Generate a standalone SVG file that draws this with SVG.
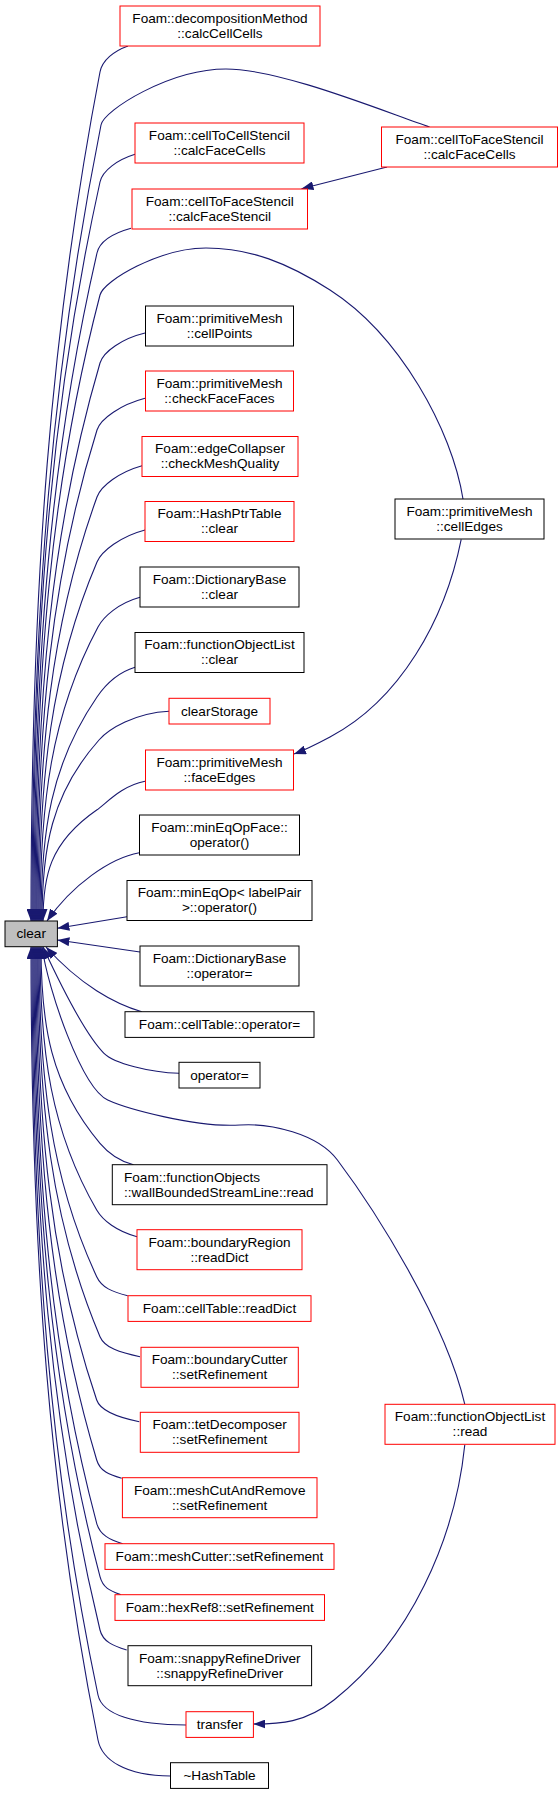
<svg xmlns="http://www.w3.org/2000/svg" width="560" height="1794" viewBox="0 0 560 1794">
<style>
.edge{fill:none;stroke:#191970;stroke-width:1.1;marker-end:url(#ah)}
.nb rect{fill:#fff;stroke:#000;stroke-width:1}
.nr rect{fill:#fff;stroke:#f00;stroke-width:1}
.root rect{fill:#bfbfbf;stroke:#000;stroke-width:1}
text{font-family:"Liberation Sans",Arial,Helvetica,sans-serif;font-size:13.6px;fill:#000;text-anchor:middle}
text.l{text-anchor:start}
</style>
<defs>
<marker id="ah" markerUnits="userSpaceOnUse" markerWidth="12" markerHeight="9" viewBox="0 0 12 9" refX="12" refY="4.5" orient="auto">
<path d="M0,0 L12,4.5 L0,9 Z" fill="#191970"/>
</marker>
</defs>
<rect x="0" y="0" width="560" height="1794" fill="#fff"/>
<g id="edges">
<path class="edge" d="M128,46 C114,51 102.3,60.2 100,72 C51,327 31,581 31,921"/>
<path class="edge" d="M429.6,127 C380,110 280,69 226,69 C170,69 104,110 101,125 C53,365 32,603 32,921"/>
<path class="edge" d="M135,154.3 C117.5,159.8 102.6,170.3 100,182 C51,404 33,625 33,921"/>
<path class="edge" d="M131,228.3 C114,233 99.7,241.3 97,253 C51,453 34,654 34,921"/>
<path class="edge" d="M463,499 C452,430 400,335 330,290 C288,263 250,248 206,248 C160,248 103.8,280.5 100,295 C51,483 35,671 35,921"/>
<path class="edge" d="M145,333 C122.5,338.4 103.4,351.5 100,363 C51,530 36,698 36,921"/>
<path class="edge" d="M145,398.3 C121,404.6 100.6,418.5 97,430 C51,577 37,725 37,921"/>
<path class="edge" d="M142,465.7 C119.5,472 101,485.7 97,497 C51,624 38,751 38,921"/>
<path class="edge" d="M145,530 C120.6,536.4 101.7,551 97,562 C51,670 39,777 39,921"/>
<path class="edge" d="M140,597.3 C118.6,603.2 103.7,616.4 98,627 C51,715 40,803 40,921"/>
<path class="edge" d="M135,667.3 C115.6,673.2 103.8,687.1 97,697 C51,764 41,831 41,921"/>
<path class="edge" d="M169,711.3 C135,713 109,728.8 99,740 C51,794 42,849 42,921"/>
<path class="edge" d="M145,781.3 C121,786 106.6,803.2 96.7,810 C49,843 43,877 43,921"/>
<path class="edge" d="M139.3,852.7 C110,858 72,885 47,921"/>
<path class="edge" d="M127,916.7 L57.4,928.3"/>
<path class="edge" d="M140,952 L57.4,940"/>
<path class="edge" d="M141.8,1011.7 C115,1004 80,985 46,947"/>
<path class="edge" d="M179,1073.3 C150,1072.5 114,1063.3 104,1053.3 C84,1033.3 56,975 43,947"/>
<path class="edge" d="M464.8,1404.3 C445,1320 375,1210 337.4,1160 C317.4,1133.4 270,1123 240,1125 C195,1128 125,1108 107.7,1100 C81.75,1088 48,990 42,947"/>
<path class="edge" d="M133.5,1164.7 C116.75,1160.4 107.7,1152.5 100,1143.3 C50.5,1084.5 41,1025 41,947"/>
<path class="edge" d="M137,1236.7 C116.9,1231.4 102.7,1220.4 96.7,1210 C50.9,1131 40,1052 40,947"/>
<path class="edge" d="M127.7,1295.7 C112.2,1291.9 101.8,1287.6 96.7,1276.7 C50.7,1177.8 39,1079 39,947"/>
<path class="edge" d="M140,1356.7 C120,1352.7 104.7,1347.8 100,1336.7 C50.6,1219.7 38,1103 38,947"/>
<path class="edge" d="M139.3,1421.7 C118,1417.4 100.6,1411.4 96.7,1400 C50.6,1264 37,1128 37,947"/>
<path class="edge" d="M121.7,1478.3 C109.2,1474.6 100.1,1471.5 96.7,1460 C50.6,1306 36,1152 36,947"/>
<path class="edge" d="M122.7,1543.7 C109.7,1539.9 99.8,1534.9 96.7,1523.3 C50.6,1350.3 35,1177 35,947"/>
<path class="edge" d="M120.7,1594.7 C110.4,1590.8 103,1588.3 100,1576.7 C50.6,1387.7 34,1199 34,947"/>
<path class="edge" d="M126.7,1650 C113.4,1646 102.8,1641.7 100,1630 C50.5,1425 33,1220 33,947"/>
<path class="edge" d="M186,1725 C135,1725 102.1,1714.6 98,1695 C50.8,1471 32,1246 32,947"/>
<path class="edge" d="M170.5,1776 C125,1776 101.9,1759.6 98,1740 C50.5,1502 31,1264 31,947"/>
<path class="edge" d="M387,167 L301.5,188.7"/>
<path class="edge" d="M461.2,539.3 C445,620 400,700 330,737 C315,745 305,750 294,754"/>
<path class="edge" d="M464.8,1444.7 C455,1540 410,1640 334,1700 C305,1723 280,1724 253.4,1724"/>
</g>
<g id="node-decompositionMethod-calcCellCells" class="nr"><rect x="120" y="6" width="200" height="40"/><text x="220" y="22.8">Foam::decompositionMethod</text><text x="220" y="37.8">::calcCellCells</text></g>
<g id="node-cellToCellStencil-calcFaceCells" class="nr"><rect x="135" y="123" width="169" height="40"/><text x="219.5" y="139.8">Foam::cellToCellStencil</text><text x="219.5" y="154.8">::calcFaceCells</text></g>
<g id="node-cellToFaceStencil-calcFaceCells" class="nr"><rect x="381.5" y="127" width="176" height="40"/><text x="469.5" y="143.8">Foam::cellToFaceStencil</text><text x="469.5" y="158.8">::calcFaceCells</text></g>
<g id="node-cellToFaceStencil-calcFaceStencil" class="nr"><rect x="132" y="189" width="175.5" height="40"/><text x="219.75" y="205.8">Foam::cellToFaceStencil</text><text x="219.75" y="220.8">::calcFaceStencil</text></g>
<g id="node-primitiveMesh-cellPoints" class="nb"><rect x="145.5" y="306" width="148" height="40"/><text x="219.5" y="322.8">Foam::primitiveMesh</text><text x="219.5" y="337.8">::cellPoints</text></g>
<g id="node-primitiveMesh-checkFaceFaces" class="nr"><rect x="145.5" y="371" width="148" height="40"/><text x="219.5" y="387.8">Foam::primitiveMesh</text><text x="219.5" y="402.8">::checkFaceFaces</text></g>
<g id="node-edgeCollapser-checkMeshQuality" class="nr"><rect x="142" y="436.5" width="156" height="40"/><text x="220" y="453.3">Foam::edgeCollapser</text><text x="220" y="468.3">::checkMeshQuality</text></g>
<g id="node-HashPtrTable-clear" class="nr"><rect x="145" y="501.5" width="149" height="40"/><text x="219.5" y="518.3">Foam::HashPtrTable</text><text x="219.5" y="533.3">::clear</text></g>
<g id="node-primitiveMesh-cellEdges" class="nb"><rect x="395" y="499" width="149" height="40"/><text x="469.5" y="515.8">Foam::primitiveMesh</text><text x="469.5" y="530.8">::cellEdges</text></g>
<g id="node-DictionaryBase-clear" class="nb"><rect x="140" y="567" width="159" height="40"/><text x="219.5" y="583.8">Foam::DictionaryBase</text><text x="219.5" y="598.8">::clear</text></g>
<g id="node-functionObjectList-clear" class="nb"><rect x="135" y="632.5" width="169" height="40"/><text x="219.5" y="649.3">Foam::functionObjectList</text><text x="219.5" y="664.3">::clear</text></g>
<g id="node-clearStorage" class="nr"><rect x="169" y="698.3" width="101" height="25.7"/><text x="219.5" y="715.6">clearStorage</text></g>
<g id="node-primitiveMesh-faceEdges" class="nr"><rect x="145.5" y="750" width="148" height="40"/><text x="219.5" y="766.8">Foam::primitiveMesh</text><text x="219.5" y="781.8">::faceEdges</text></g>
<g id="node-minEqOpFace-operator" class="nb"><rect x="139.5" y="815" width="160" height="40"/><text x="219.5" y="831.8">Foam::minEqOpFace::</text><text x="219.5" y="846.8">operator()</text></g>
<g id="node-minEqOp-labelPair-operator" class="nb"><rect x="127" y="880.5" width="185" height="40"/><text x="219.5" y="897.3">Foam::minEqOp&lt; labelPair</text><text x="219.5" y="912.3">&gt;::operator()</text></g>
<g id="node-clear" class="root"><rect x="5" y="921" width="52.4" height="25.7"/><text x="31.2" y="938.3">clear</text></g>
<g id="node-DictionaryBase-operator-assign" class="nb"><rect x="140" y="946" width="159" height="40"/><text x="219.5" y="962.8">Foam::DictionaryBase</text><text x="219.5" y="977.8">::operator=</text></g>
<g id="node-cellTable-operator-assign" class="nb"><rect x="125" y="1011.7" width="189" height="25.7"/><text x="219.5" y="1029">Foam::cellTable::operator=</text></g>
<g id="node-operator-assign" class="nb"><rect x="179" y="1062.3" width="81" height="25.7"/><text x="219.5" y="1079.6">operator=</text></g>
<g id="node-wallBoundedStreamLine-read" class="nb"><rect x="112.3" y="1164.7" width="214.7" height="40"/><text class="l" x="124" y="1181.5">Foam::functionObjects</text><text class="l" x="124" y="1196.5">::wallBoundedStreamLine::read</text></g>
<g id="node-boundaryRegion-readDict" class="nr"><rect x="137" y="1229.7" width="165" height="40"/><text x="219.5" y="1246.5">Foam::boundaryRegion</text><text x="219.5" y="1261.5">::readDict</text></g>
<g id="node-cellTable-readDict" class="nr"><rect x="128" y="1295.7" width="183" height="25.7"/><text x="219.5" y="1313">Foam::cellTable::readDict</text></g>
<g id="node-boundaryCutter-setRefinement" class="nr"><rect x="141" y="1347.3" width="157.3" height="40"/><text x="219.65" y="1364.1">Foam::boundaryCutter</text><text x="219.65" y="1379.1">::setRefinement</text></g>
<g id="node-tetDecomposer-setRefinement" class="nr"><rect x="140.3" y="1412.3" width="158.7" height="40"/><text x="219.65" y="1429.1">Foam::tetDecomposer</text><text x="219.65" y="1444.1">::setRefinement</text></g>
<g id="node-functionObjectList-read" class="nr"><rect x="385" y="1404.3" width="170" height="40"/><text x="470" y="1421.1">Foam::functionObjectList</text><text x="470" y="1436.1">::read</text></g>
<g id="node-meshCutAndRemove-setRefinement" class="nr"><rect x="122.4" y="1477.7" width="194.6" height="40"/><text x="219.7" y="1494.5">Foam::meshCutAndRemove</text><text x="219.7" y="1509.5">::setRefinement</text></g>
<g id="node-meshCutter-setRefinement" class="nr"><rect x="105" y="1543.7" width="229" height="25.7"/><text x="219.5" y="1561">Foam::meshCutter::setRefinement</text></g>
<g id="node-hexRef8-setRefinement" class="nr"><rect x="115" y="1594.7" width="209.5" height="25.7"/><text x="219.75" y="1612">Foam::hexRef8::setRefinement</text></g>
<g id="node-snappyRefineDriver" class="nb"><rect x="128" y="1645.7" width="183.6" height="40"/><text x="219.8" y="1662.5">Foam::snappyRefineDriver</text><text x="219.8" y="1677.5">::snappyRefineDriver</text></g>
<g id="node-transfer" class="nr"><rect x="186" y="1711.7" width="67.4" height="25.7"/><text x="219.7" y="1729">transfer</text></g>
<g id="node-HashTable-destructor" class="nb"><rect x="170.5" y="1762.7" width="98" height="25.7"/><text x="219.5" y="1780">~HashTable</text></g>
</svg>
